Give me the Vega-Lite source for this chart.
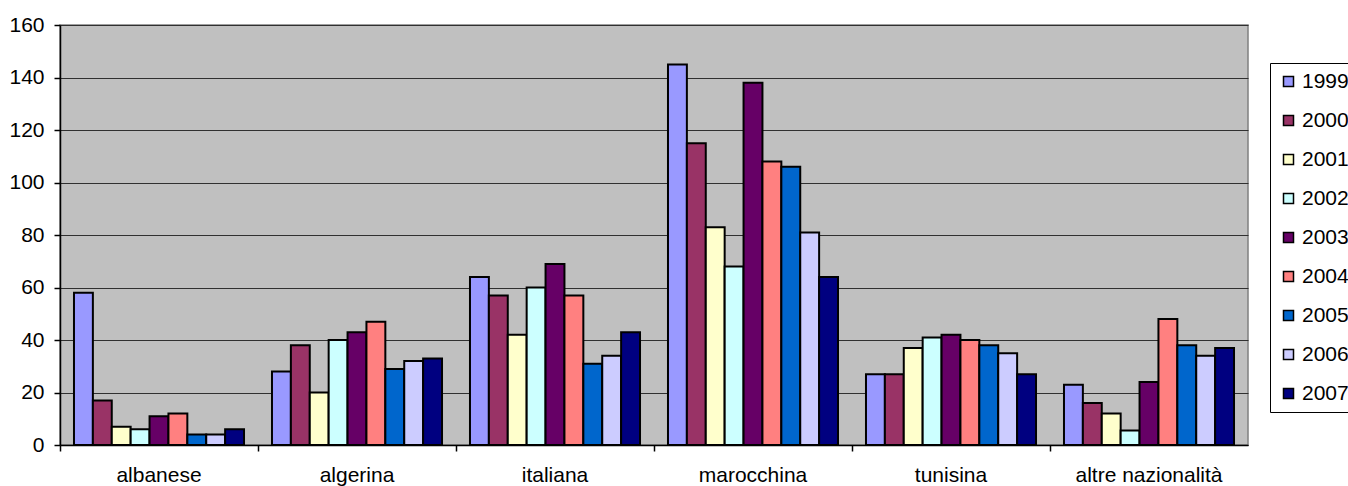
{
  "$schema": "https://vega.github.io/schema/vega-lite/v6.json",
  "width": 1188,
  "height": 420,
  "autosize": "none",
  "padding": {"left": 60, "top": 25, "right": 100, "bottom": 41},
  "background": "white",
  "config": {
    "font": "Liberation Sans",
    "view": {"fill": "#C0C0C0", "stroke": "#808080", "strokeWidth": 1.5}
  },
  "data": {
    "values": [
      {"naz": "albanese", "anno": "1999", "v": 58},
      {"naz": "albanese", "anno": "2000", "v": 17},
      {"naz": "albanese", "anno": "2001", "v": 7},
      {"naz": "albanese", "anno": "2002", "v": 6},
      {"naz": "albanese", "anno": "2003", "v": 11},
      {"naz": "albanese", "anno": "2004", "v": 12},
      {"naz": "albanese", "anno": "2005", "v": 4},
      {"naz": "albanese", "anno": "2006", "v": 4},
      {"naz": "albanese", "anno": "2007", "v": 6},
      {"naz": "algerina", "anno": "1999", "v": 28},
      {"naz": "algerina", "anno": "2000", "v": 38},
      {"naz": "algerina", "anno": "2001", "v": 20},
      {"naz": "algerina", "anno": "2002", "v": 40},
      {"naz": "algerina", "anno": "2003", "v": 43},
      {"naz": "algerina", "anno": "2004", "v": 47},
      {"naz": "algerina", "anno": "2005", "v": 29},
      {"naz": "algerina", "anno": "2006", "v": 32},
      {"naz": "algerina", "anno": "2007", "v": 33},
      {"naz": "italiana", "anno": "1999", "v": 64},
      {"naz": "italiana", "anno": "2000", "v": 57},
      {"naz": "italiana", "anno": "2001", "v": 42},
      {"naz": "italiana", "anno": "2002", "v": 60},
      {"naz": "italiana", "anno": "2003", "v": 69},
      {"naz": "italiana", "anno": "2004", "v": 57},
      {"naz": "italiana", "anno": "2005", "v": 31},
      {"naz": "italiana", "anno": "2006", "v": 34},
      {"naz": "italiana", "anno": "2007", "v": 43},
      {"naz": "marocchina", "anno": "1999", "v": 145},
      {"naz": "marocchina", "anno": "2000", "v": 115},
      {"naz": "marocchina", "anno": "2001", "v": 83},
      {"naz": "marocchina", "anno": "2002", "v": 68},
      {"naz": "marocchina", "anno": "2003", "v": 138},
      {"naz": "marocchina", "anno": "2004", "v": 108},
      {"naz": "marocchina", "anno": "2005", "v": 106},
      {"naz": "marocchina", "anno": "2006", "v": 81},
      {"naz": "marocchina", "anno": "2007", "v": 64},
      {"naz": "tunisina", "anno": "1999", "v": 27},
      {"naz": "tunisina", "anno": "2000", "v": 27},
      {"naz": "tunisina", "anno": "2001", "v": 37},
      {"naz": "tunisina", "anno": "2002", "v": 41},
      {"naz": "tunisina", "anno": "2003", "v": 42},
      {"naz": "tunisina", "anno": "2004", "v": 40},
      {"naz": "tunisina", "anno": "2005", "v": 38},
      {"naz": "tunisina", "anno": "2006", "v": 35},
      {"naz": "tunisina", "anno": "2007", "v": 27},
      {"naz": "altre nazionalità", "anno": "1999", "v": 23},
      {"naz": "altre nazionalità", "anno": "2000", "v": 16},
      {"naz": "altre nazionalità", "anno": "2001", "v": 12},
      {"naz": "altre nazionalità", "anno": "2002", "v": 5.5},
      {"naz": "altre nazionalità", "anno": "2003", "v": 24},
      {"naz": "altre nazionalità", "anno": "2004", "v": 48},
      {"naz": "altre nazionalità", "anno": "2005", "v": 38},
      {"naz": "altre nazionalità", "anno": "2006", "v": 34},
      {"naz": "altre nazionalità", "anno": "2007", "v": 37}
    ]
  },
  "layer": [
    {
      "mark": {"type": "bar", "stroke": "black", "strokeWidth": 2},
      "encoding": {
        "x": {
          "field": "naz", "type": "nominal", "sort": null,
          "scale": {"paddingInner": 0, "paddingOuter": 0},
          "axis": {
            "title": null, "labelAngle": 0, "ticks": false, "orient": "bottom",
            "labelFontSize": 21, "labelColor": "black", "labelPadding": 19,
            "domainColor": "black", "domainWidth": 1.5, "grid": false
          }
        },
        "xOffset": {
          "field": "anno", "type": "nominal",
          "scale": {"paddingInner": 0, "paddingOuter": 0.74}
        },
        "y": {
          "field": "v", "type": "quantitative",
          "scale": {"domain": [0, 160], "nice": false},
          "axis": {
            "title": null, "values": [0, 20, 40, 60, 80, 100, 120, 140, 160],
            "labelFontSize": 21, "labelColor": "black", "labelPadding": 10,
            "tickSize": 6, "tickColor": "black", "tickWidth": 1.5,
            "domainColor": "black", "domainWidth": 1.5,
            "grid": true, "gridColor": "#303030", "gridWidth": 1.2
          }
        },
        "color": {
          "field": "anno", "type": "nominal",
          "scale": {
            "domain": ["1999", "2000", "2001", "2002", "2003", "2004", "2005", "2006", "2007"],
            "range": ["#9999FF", "#993366", "#FFFFCC", "#CCFFFF", "#660066", "#FF8080", "#0066CC", "#CCCCFF", "#000080"]
          },
          "legend": {
            "title": null, "orient": "none", "legendX": 1210, "legendY": 38,
            "fillColor": "white", "strokeColor": "black", "padding": 8,
            "symbolType": "square", "symbolSize": 100, "symbolStrokeColor": "black",
            "symbolStrokeWidth": 1.5, "symbolOpacity": 1,
            "labelFontSize": 21, "labelColor": "black", "labelOffset": 3,
            "rowPadding": 17, "labelLimit": 200
          }
        }
      }
    },
    {
      "mark": {"type": "rule", "opacity": 0},
      "encoding": {
        "x": {
          "field": "naz", "type": "nominal", "sort": null,
          "axis": {
            "title": null, "labels": false, "domain": false, "grid": false, "orient": "bottom",
            "ticks": true, "bandPosition": 0, "tickSize": 6,
            "tickColor": "black", "tickWidth": 1.5
          }
        }
      }
    }
  ],
  "resolve": {"axis": {"x": "independent"}}
}
